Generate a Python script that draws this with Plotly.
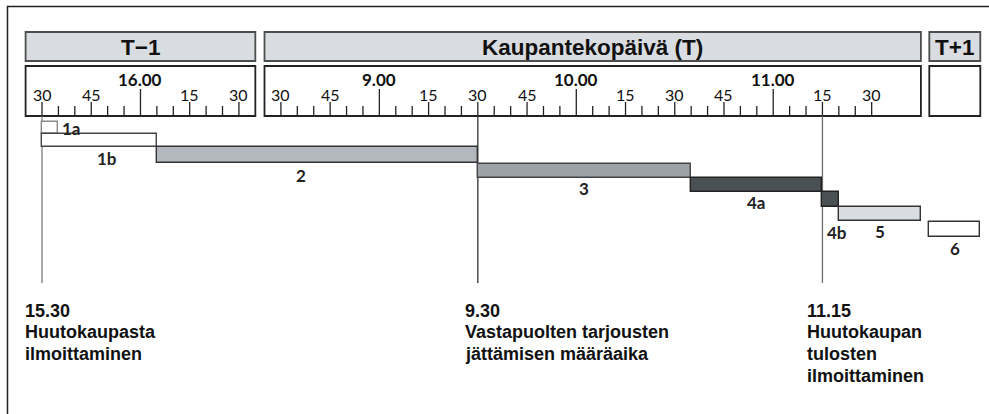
import plotly.graph_objects as go

# ------------------------------------------------------------------ data
day_keys = ["T-1", "T", "T+1"]
day_titles = ["T−1", "Kaupantekopäivä (T)", "T+1"]
day_window_start = ["15:25", "8:25", None]
day_window_end = ["16:35", "11:45", None]

bar_labels = ["1a", "1b", "2", "3", "4a", "4b", "5", "6"]
bar_start_day = ["T-1", "T-1", "T-1", "T", "T", "T", "T", "T+1"]
bar_start_time = ["15:30", "15:30", "16:05", "9:30", "10:35", "11:15", "11:20", None]
bar_end_day = ["T-1", "T-1", "T", "T", "T", "T", "T", "T+1"]
bar_end_time = ["15:35", "16:05", "9:30", "10:35", "11:15", "11:20", "11:45", None]

ruler_first_tick = ["15:30", "8:30"]
ruler_last_tick = ["16:30", "11:30"]
tick_step_min = 5

milestone_day = ["T-1", "T", "T"]
milestone_time = ["15:30", "9:30", "11:15"]
milestone_title = ["15.30", "9.30", "11.15"]
milestone_text = [
    ["Huutokaupasta", "ilmoittaminen"],
    ["Vastapuolten tarjousten", "jättämisen määräaika"],
    ["Huutokaupan", "tulosten", "ilmoittaminen"],
]

# ------------------------------------------------------------------ layout constants
W, H = 989, 414
PX_PER_MIN = 3.282
ORIGIN_PX = 25.6
GAP_1 = 2.79
GAP_2 = 2.56
TP1_WIDTH = 15.54


def minutes(t):
    h, m = t.split(":")
    return int(h) * 60 + int(m)


col_start = {}
col_end = {}
cur = 0.0
for k, s, e in zip(day_keys, day_window_start, day_window_end):
    col_start[k] = cur
    span = (minutes(e) - minutes(s)) if s else TP1_WIDTH
    col_end[k] = cur + span
    cur = col_end[k] + (GAP_1 if k == "T-1" else GAP_2)
win_start = dict(zip(day_keys, day_window_start))


def u_at(day, t, end=False):
    if t is None:
        return col_end[day] if end else col_start[day]
    return col_start[day] + minutes(t) - minutes(win_start[day])


def px2u(px):
    return (px - ORIGIN_PX) / PX_PER_MIN


fig = go.Figure()
shapes = []
annotations = []

# outer frame
shapes.append(dict(type="rect", xref="x", yref="y", x0=px2u(7.5), x1=px2u(995), y0=6.5, y1=420,
                   line=dict(color="#222", width=1.5), fillcolor="rgba(0,0,0,0)", layer="below"))

# header boxes + ruler boxes
HEAD_Y0, HEAD_Y1 = 32, 61
RUL_Y0, RUL_Y1 = 66, 116
for k, title in zip(day_keys, day_titles):
    x0, x1 = col_start[k], col_end[k]
    shapes.append(dict(type="rect", xref="x", yref="y", x0=x0, x1=x1, y0=HEAD_Y0, y1=HEAD_Y1,
                       fillcolor="#d9dce0", line=dict(color="#4d4d4d", width=1.8), layer="below"))
    shapes.append(dict(type="rect", xref="x", yref="y", x0=x0, x1=x1, y0=RUL_Y0, y1=RUL_Y1,
                       fillcolor="#ffffff", line=dict(color="#222", width=1.8), layer="below"))
    annotations.append(dict(x=(x0 + x1) / 2, y=(HEAD_Y0 + HEAD_Y1) / 2 + 1, xref="x", yref="y",
                            text=f"<b>{title}</b>", showarrow=False, xanchor="center", yanchor="middle",
                            font=dict(family="Liberation Sans, Arial", size=22.5, color="#111")))

# ruler ticks and labels
tx, ty = [], []
for k, first, last in zip(["T-1", "T"], ruler_first_tick, ruler_last_tick):
    for m in range(minutes(first), minutes(last) + 1, tick_step_min):
        t = f"{m // 60}:{m % 60:02d}"
        u = u_at(k, t)
        mm = m % 60
        if mm == 0:
            top = RUL_Y1 - 27
            annotations.append(dict(x=u, y=79.5, xref="x", yref="y", text=f"<b>{m // 60}.00</b>",
                                    showarrow=False, xanchor="center", yanchor="middle",
                                    font=dict(family="Lato", size=17, color="#111")))
        elif mm % 15 == 0:
            top = RUL_Y1 - 14
            annotations.append(dict(x=u, y=94.5, xref="x", yref="y", text=f"{mm}",
                                    showarrow=False, xanchor="center", yanchor="middle",
                                    font=dict(family="Lato", size=16, color="#111")))
        else:
            top = RUL_Y1 - 10
        tx += [u, u, None]
        ty += [RUL_Y1, top, None]
fig.add_trace(go.Scatter(x=tx, y=ty, mode="lines", line=dict(color="#222", width=1.3),
                         hoverinfo="skip", showlegend=False))

# milestone vertical lines
line_colors = ["#7a7a7a", "#333333", "#6a6a6a"]
for d, t, c in zip(milestone_day, milestone_time, line_colors):
    u = u_at(d, t)
    shapes.append(dict(type="line", xref="x", yref="y", x0=u, x1=u, y0=RUL_Y1, y1=283,
                       line=dict(color=c, width=1.3), layer="below"))

# bars
row_top = [121.7, 134.3, 147.3, 164.0, 178.3, 192.3, 207.3, 222.3]
row_bot = [134.3, 146.7, 163.3, 178.3, 192.3, 206.7, 220.7, 236.7]
bar_fill = ["#ffffff", "#ffffff", "#b3b8be", "#9da2a6", "#4a5154", "#4a5154", "#d9dce0", "#ffffff"]
bar_line = ["#8a8a8a", "#444", "#333", "#444", "#222", "#222", "#333", "#333"]

starts = [u_at(d, t) for d, t in zip(bar_start_day, bar_start_time)]
ends = [u_at(d, t, end=True) for d, t in zip(bar_end_day, bar_end_time)]
fig.add_trace(go.Bar(
    orientation="h",
    base=starts,
    x=[e - s for s, e in zip(starts, ends)],
    y=[(a + b) / 2 for a, b in zip(row_top, row_bot)],
    width=[b - a for a, b in zip(row_top, row_bot)],
    marker=dict(color=bar_fill, line=dict(color=bar_line, width=1.4)),
    hoverinfo="skip", showlegend=False,
))

# bar labels
label_dx = [0, 8, -16, 0, 0, 6, 0, 0]
label_y = [128, 158.5, 175.5, 188, 202.5, 232, 231, 248]
for i, lab in enumerate(bar_labels):
    if i == 0:
        x, xa = ends[i] + 2 / PX_PER_MIN, "left"
    else:
        x, xa = (starts[i] + ends[i]) / 2 + label_dx[i] / PX_PER_MIN, "center"
    annotations.append(dict(x=x, y=label_y[i], xref="x", yref="y", text=f"<b>{lab}</b>",
                            showarrow=False, xanchor=xa, yanchor="middle",
                            font=dict(family="Lato", size=17, color="#222")))

# milestone texts (one annotation per line for exact line spacing)
text_dx = [-18.5, -13.5, -16.5]
LINE_STEP = 21.9
for d, t, ti, lines, dx in zip(milestone_day, milestone_time, milestone_title, milestone_text, text_dx):
    u = u_at(d, t) + dx / PX_PER_MIN
    for j, s in enumerate([ti] + lines):
        annotations.append(dict(x=u, y=299.5 + j * LINE_STEP, xref="x", yref="y", text=f"<b>{s}</b>",
                                showarrow=False, xanchor="left", yanchor="top", align="left",
                                font=dict(family="Liberation Sans, Arial", size=18, color="#111"),
                                borderpad=0))

fig.update_layout(
    width=W, height=H, margin=dict(l=0, r=0, t=0, b=0),
    paper_bgcolor="white", plot_bgcolor="white",
    xaxis=dict(range=[px2u(0), px2u(W)], visible=False, fixedrange=True),
    yaxis=dict(range=[H, 0], visible=False, fixedrange=True),
    shapes=shapes, annotations=annotations, bargap=0,
)
fig.write_html("out.html", config={"displayModeBar": False},
               post_script="document.body.style.margin='0';document.body.style.overflow='hidden';")
